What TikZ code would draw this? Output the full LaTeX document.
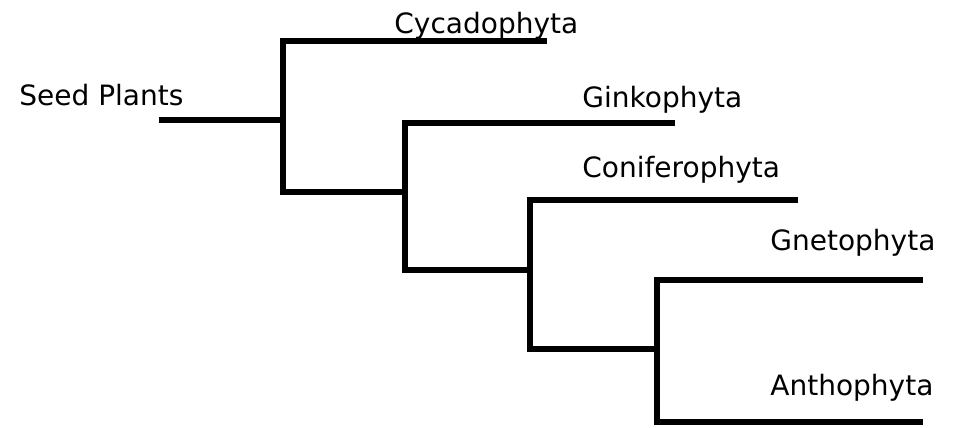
\documentclass[tikz,border=0pt]{standalone}
\usepackage{fontspec}
\setmainfont{DejaVu Sans}
\usetikzlibrary{positioning}
\tikzset{
	% labels of the taxa, placed at their baseline
	taxon/.style={anchor=base west, inner sep=0pt, font=\fontsize{14pt}{16pt}\selectfont},
	branch/.style={line width=3pt, line join=miter, black,
		preaction={draw, black!18, line width=3pt, transform canvas={shift={(0.8pt,-1pt)}}}},
}

\begin{document}
\begin{tikzpicture}[x=0.5pt, y=-0.5pt]
		\useasboundingbox (0,0) rectangle (954,428);
		
		% leaf ends
		\coordinate (root) at (159,120);
		\coordinate (cyc) at (547,41);
		\coordinate (gin) at (675,123);
		\coordinate (con) at (798,200);
		\coordinate (gne) at (923,280);
		\coordinate (ant) at (923,422);
		
		% junctions
		\coordinate (j1) at (283,120);
		\coordinate (j2) at (405,192);
		\coordinate (j3) at (530,270);
		\coordinate (j4) at (657,349);
		
		\node (seed) [taxon] at (19,105) {Seed Plants};
		\node (cycl) [taxon] at (394,33) {Cycadophyta};
		\node (ginl) [taxon] at (582,107) {Ginkophyta};
		\node (conl) [taxon] at (582,177) {Coniferophyta};
		\node (gnel) [taxon] at (770,250) {Gnetophyta};
		\node (antl) [taxon] at (770,395) {Anthophyta};
		
		\begin{scope}[branch]
			\draw (root) -- (j1);
			\draw (cyc) -| (j1) |- (j2);
			\draw (gin) -| (j2) |- (j3);
			\draw (con) -| (j3) |- (j4);
			\draw (gne) -| (j4) |- (ant);
		\end{scope}
	\end{tikzpicture}
\end{document}
